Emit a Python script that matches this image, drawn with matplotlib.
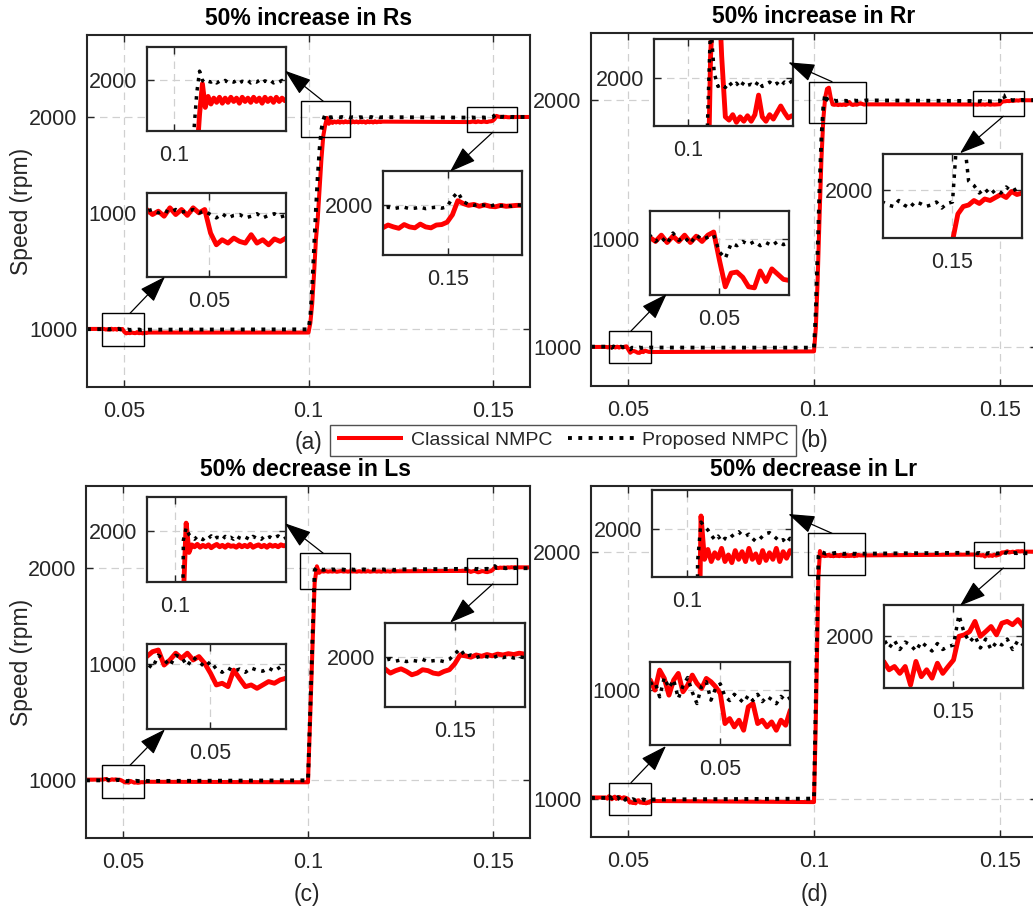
import numpy as np
import matplotlib
matplotlib.use('Agg')
import matplotlib.pyplot as plt
from matplotlib.patches import Rectangle, FancyArrowPatch

plt.rcParams['font.family'] = ['Liberation Sans', 'DejaVu Sans']

W, H = 1033, 908

# ---------------- data ----------------
titles = ['50% increase in Rs', '50% increase in Rr', '50% decrease in Ls', '50% decrease in Lr']
panel_labels = ['(a)', '(b)', '(c)', '(d)']
series_names = ['Classical NMPC', 'Proposed NMPC']
x_range = (0.04, 0.16)
main_ylims = [(730, 2386), (843, 2270), (730, 2386), (843, 2270)]
x_ticks = [0.05, 0.1, 0.15]
x_tick_labels = ['0.05', '0.1', '0.15']
y_ticks = [1000, 2000]
y_tick_labels = ['1000', '2000']

# panel (a): three windows (time span, classical, proposed)
a_t1 = (0.0446, 0.0566)
a_cl_w1 = [1002, 999, 1001, 998, 1003, 999, 1002, 998.5, 1003, 1000, 1002, 988, 981, 984, 982, 985,
           983, 982, 987, 982, 984, 981, 984.5, 983, 985]
a_pr_w1 = [1001, 1002, 1000, 1001.5, 1000, 1002, 1000.5, 1001, 1002, 1000, 1001, 999, 997, 999.5, 997,
           998.5, 999, 997, 998, 999.5, 997, 998.5, 999.5, 997.5, 998.5]
a_t2 = (0.1000, 0.1200)
a_cl_w2 = [985, 1030, 1120, 1260, 1420, 1520, 1660, 1800, 1910, 1960, 1996, 1968, 1981, 1972, 1979, 1974,
           1980, 1973, 1979, 1974, 1980, 1975, 1979, 1973, 1980, 1975, 1979, 1974, 1980, 1975, 1979, 1973,
           1980, 1975, 1979, 1974, 1980, 1975, 1979, 1976, 1978]
a_pr_w2 = [1000, 1060, 1200, 1380, 1560, 1720, 1850, 1940, 1985, 2011, 2000, 1997, 1999, 1998, 2000, 1997,
           1999, 1998, 2000, 1997.5, 1999, 1998, 2000, 1997, 1999, 1998, 2000, 1997, 1999, 1998, 2000, 1997,
           1999.5, 1998, 2000, 1997, 1999, 1998, 2000, 1997.5, 1999]
a_t3 = (0.1439, 0.1569)
a_cl_w3 = [1976, 1979, 1977, 1975.5, 1979.5, 1977, 1976, 1980, 1977, 1976, 1979, 1979.5, 1982, 1990, 2005,
           2002, 2000, 2001, 1999, 2000.5, 1999, 1998.5, 2000, 1999, 1999.5, 2000, 2000]
a_pr_w3 = [1997, 1998, 1996.5, 1997.5, 1998, 1996.5, 1997, 1998, 1996.5, 1997.5, 1998, 1997, 1998.5, 2008,
           2014, 2004, 2001, 2000, 2001.5, 2000, 1999, 2001, 1999.5, 2000.5, 1999, 2000.5, 2000]

# panel (b)
b_t1 = (0.04405, 0.05605)
b_cl_w1 = [1001, 999, 1002, 998.5, 1001.5, 999, 1002, 998.5, 1001.5, 999, 1002, 1003.5, 990, 977.5, 984,
           984.5, 982, 977.5, 977, 985, 980, 986, 983.5, 981, 980.5]
b_pr_w1 = [1002, 999, 1001, 998, 1003, 999.5, 1001, 998, 1002, 1000, 1001, 1002, 994, 991, 998, 997, 999,
           997.5, 999, 997, 998.5, 997, 999, 997.5, 998.5]
b_t2 = (0.1000, 0.1140)
b_cl_w2 = [983, 1080, 1280, 1530, 1760, 1920, 2010, 2045, 2050, 2010, 1982, 1980.5, 1983, 1979.5, 1982,
           1980, 1982.5, 1980, 1983, 1992, 1982, 1980, 1983, 1981, 1984, 1987, 1984, 1981.5, 1982.5]
b_pr_w2 = [998, 1150, 1400, 1650, 1850, 1970, 2025, 2002, 1996, 1997, 1995.5, 1998, 1996, 1997.5, 1995.5,
           1998, 1996.5, 1997, 1996, 1998.5, 1996, 1997, 1998, 1996.5, 1997.5, 1996, 1998, 1997, 1998.5]
b_t3 = (0.1435, 0.1565)
b_cl_w3 = [1982, 1981, 1983, 1981.5, 1982.5, 1981, 1983, 1982, 1981, 1982.5, 1981.5, 1982, 1982.5, 1983,
           1992, 1994.5, 1995, 1996.5, 1995.5, 1997, 1996.5, 1997.5, 1998.5, 1997.5, 1999.5, 1998.5, 1999]
b_pr_w3 = [1996, 1995, 1994.5, 1996.5, 1995, 1994, 1996, 1995.5, 1994.5, 1995, 1996, 1994, 1995.5, 1996,
           2022, 2020, 2003, 2001.5, 1999, 2000.5, 1998.5, 2000, 1999, 2001, 1999.5, 2000.5, 1999.5]

# panel (c)
c_t1 = (0.04454, 0.05654)
c_cl_w1 = [1003.4, 1005.7, 1006.5, 999.4, 1001.8, 1005, 1002.6, 1005, 1001.8, 1003.4, 1000.2, 995.5, 990,
           990.8, 989.2, 997, 993, 989.2, 990, 988.4, 990, 991.6, 990.8, 992.4, 993.2]
c_pr_w1 = [1000, 998, 1004, 1002, 999, 1004, 1003, 999, 1003, 1001, 998.5, 1001, 997.5, 996, 998, 996.5,
           997.5, 996, 998, 997, 996.5, 998, 996.5, 998.5, 997]
c_t2 = (0.1000, 0.1240)
c_cl_w2 = [991, 1300, 1620, 1930, 2008, 1977, 1985, 1983, 1985.5, 1982.5, 1984.5, 1983, 1985, 1982, 1984,
           1985.5, 1983, 1984.5, 1982.5, 1985, 1983.5, 1984, 1982.5, 1985, 1983, 1984.5, 1983, 1985.5,
           1982.5, 1984, 1985, 1983, 1984.5, 1982.5, 1985, 1983.5, 1984.5, 1983, 1985, 1984, 1984.5]
c_pr_w2 = [1000, 1330, 1660, 1990, 2003, 1996, 1993, 1991, 1994, 1992, 1990.5, 1993.5, 1992, 1994.5, 1991,
           1993, 1992.5, 1990.5, 1994, 1992, 1993, 1991, 1994.5, 1992.5, 1991.5, 1993.5, 1992, 1990.5, 1994,
           1992.5, 1993, 1991, 1994, 1992, 1993.5, 1991.5, 1993, 1994.5, 1992, 1991, 1993]
c_t3 = (0.14347, 0.15647)
c_cl_w3 = [1986.3, 1981.5, 1984.3, 1986.3, 1983.4, 1979.6, 1981.5, 1985.3, 1984.3, 1981.5, 1980.5, 1983.4,
           1985.3, 1992, 2002, 2001, 1999.5, 2002, 2000.5, 2002.5, 2001, 2003, 2002, 2003.5, 2002.5, 2004, 2003]
c_pr_w3 = [1996, 1997.5, 1995, 1996.5, 1994.5, 1996, 1995, 1997, 1994.5, 1995.5, 1996, 1994.5, 1997, 2003,
           2009, 2000, 2002, 1999, 2001, 2000, 1998.5, 2001, 1999, 2000.5, 1998.5, 2000, 1999]

# panel (d)
d_t1 = (0.0440, 0.0560)
d_cl_w1 = [1004.8, 1000, 1009.6, 1005.6, 997.6, 1004.8, 1008, 999.2, 1002.4, 1007.2, 1003.2, 1000.8, 1005.6,
           1004, 1001.6, 998.4, 984, 986.4, 982.4, 985.6, 980.8, 992, 993.6, 984, 985.6, 982.4, 984.8, 980.8,
           985.6, 983.2, 990.4]
d_pr_w1 = [1003, 1004, 996.8, 1006, 1001, 1005, 996, 1002, 1006, 999, 993.6, 1002, 1004, 995.2, 1001, 1003,
           997, 995, 998, 996, 994, 997.5, 995, 998, 994.5, 997, 995.5, 993.5, 997, 995, 996.5]
d_t2 = (0.1000, 0.1124)
d_cl_w2 = [986, 1250, 1580, 1900, 2005.8, 1986, 1990.5, 1985, 1989, 1986.5, 1991, 1985, 1988, 1984.5, 1990,
           1986, 1989.5, 1985, 1991, 1986, 1988.5, 1984.5, 1990, 1985.5, 1989, 1986, 1991, 1985, 1989.5,
           1986.5, 1990, 1988]
d_pr_w2 = [1000, 1330, 1660, 1985, 2003, 2001, 1999.4, 1997, 1995, 1996.6, 1994.2, 1995.6, 1995, 1996.6,
           1997.8, 1998.6, 1997, 1996.6, 1997.5, 1995.6, 1994.2, 1995, 1996.6, 1997.8, 1998.2, 1997, 1995.6,
           1994.2, 1995, 1993.4, 1995.6, 1995]
d_t3 = (0.1435, 0.1565)
d_cl_w3 = [1991.5, 1988.7, 1989.8, 1987.5, 1989.8, 1983.6, 1991.5, 1986.4, 1988.7, 1985.9, 1990.9, 1987.5,
           1989.8, 1992, 1999.9, 2000.4, 2001.5, 2004.9, 1999.9, 2001.5, 2003.2, 2000.4, 2004.3, 2004.9,
           2003.8, 2005.5, 2003.2]
d_pr_w3 = [1999, 1996, 1998.5, 1995.5, 1998, 1997, 1995, 1998, 1996.5, 1995, 1997.5, 1995.5, 1996.5, 1997,
           2007, 2001, 1998, 2000, 1996, 1999, 1995.5, 1998, 1997, 1999, 1995.5, 1998.5, 1997]

# zoom (inset) limits per window
a_zoom_x = [(0.0446, 0.0566), (0.0952, 0.1197), (0.1439, 0.1569)]
a_zoom_y = [(962, 1012), (1940, 2040), (1947, 2037)]
b_zoom_x = [(0.04405, 0.05605), (0.0953, 0.1142), (0.1435, 0.1565)]
b_zoom_y = [(973.6, 1013.6), (1977.8, 2017.8), (1984.1, 2012.1)]
c_zoom_x = [(0.04454, 0.05654), (0.0939, 0.1239), (0.14347, 0.15647)]
c_zoom_y = [(969.2, 1009.2), (1946, 2036), (1943.5, 2038.5)]
d_zoom_x = [(0.0440, 0.0560), (0.09587, 0.11227), (0.1435, 0.1565)]
d_zoom_y = [(973.6, 1013.6), (1977.8, 2017.8), (1982.5, 2010.5)]
zoom_xtick = [0.05, 0.1, 0.15]
zoom_xtick_label = ['0.05', '0.1', '0.15']
zoom_ytick = [1000, 2000, 2000]

# marked regions on the main axes (x0, x1, y0, y1)
a_rects = [(0.04414, 0.05544, 923, 1075.6), (0.09796, 0.11132, 1904, 2073.7), (0.14284, 0.15655, 1927.7, 2048)]
b_rects = [(0.04484, 0.05606, 934.8, 1065.5), (0.09857, 0.11399, 1908, 2074), (0.14287, 0.15651, 1934, 2037.6)]
c_rects = [(0.04441, 0.05568, 918.3, 1070.9), (0.09792, 0.11143, 1899.5, 2069), (0.14289, 0.15657, 1924.5, 2045.4)]
d_rects = [(0.04484, 0.05606, 933.6, 1064.8), (0.0983, 0.1138, 1908.4, 2077.8), (0.14305, 0.1565, 1936.8, 2041)]

# ---------------- layout (figure pixels, y from top) ----------------
main_boxes = [(87, 530, 35, 386.7), (591, 1037, 33.3, 386), (86, 530, 486, 837.7), (591, 1037, 486, 837.3)]
a_boxes = [(146.7, 286, 192.7, 276.7), (146.7, 286, 46.7, 131), (382.7, 522.2, 170.7, 255)]
b_boxes = [(649.7, 789.3, 210.7, 295), (653.7, 793.3, 39, 126), (882.7, 1022.3, 153.7, 237.7)]
c_boxes = [(146.7, 286, 644.3, 729), (146.7, 286, 496.7, 581.7), (385, 524.5, 622.7, 706.7)]
d_boxes = [(650.3, 790.3, 661.7, 745.3), (652, 792.3, 489.7, 577.3), (883.7, 1023.3, 604.7, 688.3)]
a_arrows = [((130, 313.3), (165, 276.7)), ((323.3, 101.3), (285, 70.7)), ((492.7, 132.3), (450, 171.7))]
b_arrows = [((631, 331), (666.7, 294)), ((832, 81.7), (788.3, 62.3)), ((1003.3, 116.3), (960, 153.3))]
c_arrows = [((130, 765.3), (165, 729.3)), ((323.3, 553.3), (285, 523.3)), ((492.7, 584), (450, 622.7))]
d_arrows = [((631, 782.7), (666, 746)), ((832, 533.3), (788.3, 514)), ((1003.3, 568), (960, 605.7))]
title_pos = [(308.5, 18.3), (813.3, 16.7), (306, 469.3), (813.3, 470)]
label_pos = [(309, 442), (815, 441), (307, 895), (814, 895)]
ylabel_pos = [(21.7, 211), (21.7, 662)]
legend_center = (563, 440.5)

RED = '#ff0000'
DARK = '#262626'

panels = [
    dict(win=[(a_t1, a_cl_w1, a_pr_w1), (a_t2, a_cl_w2, a_pr_w2), (a_t3, a_cl_w3, a_pr_w3)],
         zx=a_zoom_x, zy=a_zoom_y, rects=a_rects, boxes=a_boxes, arrows=a_arrows),
    dict(win=[(b_t1, b_cl_w1, b_pr_w1), (b_t2, b_cl_w2, b_pr_w2), (b_t3, b_cl_w3, b_pr_w3)],
         zx=b_zoom_x, zy=b_zoom_y, rects=b_rects, boxes=b_boxes, arrows=b_arrows),
    dict(win=[(c_t1, c_cl_w1, c_pr_w1), (c_t2, c_cl_w2, c_pr_w2), (c_t3, c_cl_w3, c_pr_w3)],
         zx=c_zoom_x, zy=c_zoom_y, rects=c_rects, boxes=c_boxes, arrows=c_arrows),
    dict(win=[(d_t1, d_cl_w1, d_pr_w1), (d_t2, d_cl_w2, d_pr_w2), (d_t3, d_cl_w3, d_pr_w3)],
         zx=d_zoom_x, zy=d_zoom_y, rects=d_rects, boxes=d_boxes, arrows=d_arrows),
]


def build_series(win):
    ts, cls, prs = [[x_range[0]]], [[win[0][1][0]]], [[win[0][2][0]]]
    for span, cl, pr in win:
        ts.append(np.linspace(span[0], span[1], len(cl)))
        cls.append(np.asarray(cl, float))
        prs.append(np.asarray(pr, float))
    ts.append([x_range[1]])
    cls.append([win[-1][1][-1]])
    prs.append([win[-1][2][-1]])
    return np.concatenate(ts), np.concatenate(cls), np.concatenate(prs)


fig = plt.figure(figsize=(W / 100, H / 100), dpi=100)


def px_axes(box):
    x0, x1, y0, y1 = box
    return fig.add_axes([x0 / W, 1 - y1 / H, (x1 - x0) / W, (y1 - y0) / H])


def style(ax, spine_lw=1.5):
    ax.tick_params(direction='in', length=5, width=1.0, top=True, right=True,
                   labelsize=15.5, colors=DARK)
    ax.tick_params(axis='x', pad=10)
    ax.tick_params(axis='y', pad=7)
    ax.grid(True, linestyle=(0, (6, 4)), color='#d0d0d0', linewidth=0.9)
    for s in ax.spines.values():
        s.set_linewidth(spine_lw)
        s.set_color(DARK)


handles = None
for i, p in enumerate(panels):
    t, cl, pr = build_series(p['win'])
    ax = px_axes(main_boxes[i])
    l1, = ax.plot(t, cl, color=RED, lw=2.9, solid_capstyle='butt')
    l2, = ax.plot(t, pr, color='k', lw=2.8, linestyle=':', dash_capstyle='butt')
    if handles is None:
        handles = [l1, l2]
    ax.set_xlim(*x_range)
    ax.set_ylim(*main_ylims[i])
    ax.set_xticks(x_ticks)
    ax.set_xticklabels(x_tick_labels)
    ax.set_yticks(y_ticks)
    ax.set_yticklabels(y_tick_labels)
    style(ax)
    for (x0, x1, y0, y1) in p['rects']:
        ax.add_patch(Rectangle((x0, y0), x1 - x0, y1 - y0, fill=False, ec='k', lw=1.0, zorder=6))

    for k in range(3):
        ia = px_axes(p['boxes'][k])
        ia.plot(t, cl, color=RED, lw=3.5, solid_capstyle='butt')
        ia.plot(t, pr, color='k', lw=2.5, linestyle=':', dash_capstyle='butt')
        ia.set_xlim(*p['zx'][k])
        ia.set_ylim(*p['zy'][k])
        ia.set_xticks([zoom_xtick[k]])
        ia.set_xticklabels([zoom_xtick_label[k]])
        ia.set_yticks([zoom_ytick[k]])
        ia.set_yticklabels([str(zoom_ytick[k])])
        style(ia, spine_lw=1.6)
        ia.set_facecolor('white')

    for (xa, ya), (xb, yb) in p['arrows']:
        arr = FancyArrowPatch(posA=(xa / W, 1 - ya / H), posB=(xb / W, 1 - yb / H),
                              transform=fig.transFigure,
                              arrowstyle='-|>,head_length=1.1,head_width=0.38',
                              mutation_scale=15, color='k', lw=0.9, shrinkA=0, shrinkB=0,
                              zorder=20)
        fig.add_artist(arr)

    tx, ty = title_pos[i]
    fig.text(tx / W, 1 - ty / H, titles[i], ha='center', va='center', fontsize=16.5,
             fontweight='bold', color='k')
    lx, ly = label_pos[i]
    fig.text(lx / W, 1 - ly / H, panel_labels[i], ha='center', va='center', fontsize=16.5, color=DARK)

for (yx, yy) in ylabel_pos:
    fig.text(yx / W, 1 - yy / H, 'Speed (rpm)', rotation=90, ha='center', va='center',
             fontsize=16.5, color=DARK)

leg = fig.legend(handles, series_names, loc='center',
                 bbox_to_anchor=(legend_center[0] / W, 1 - legend_center[1] / H),
                 ncol=2, fontsize=14, frameon=True, fancybox=False, edgecolor=DARK,
                 handlelength=3.4, columnspacing=0.8, handletextpad=0.4, borderpad=0.35,
                 borderaxespad=0)
leg.get_frame().set_linewidth(1.0)
for txt in leg.get_texts():
    txt.set_color(DARK)

fig.savefig('out.png', dpi=100)
